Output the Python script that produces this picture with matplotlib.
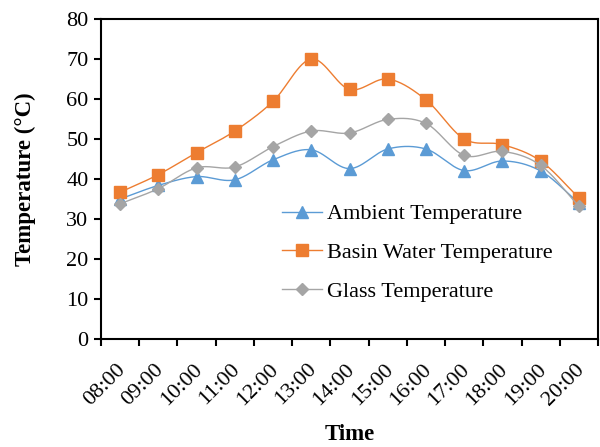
import numpy as np
import matplotlib
matplotlib.use("Agg")
import matplotlib.pyplot as plt
import matplotlib.transforms as mtransforms
from matplotlib.lines import Line2D

times = ["08:00", "09:00", "10:00", "11:00", "12:00", "13:00", "14:00",
         "15:00", "16:00", "17:00", "18:00", "19:00", "20:00"]
ambient = [35.0, 38.4, 40.6, 39.8, 44.8, 47.3, 42.6, 47.5, 47.5, 42.1, 44.5, 42.0, 34.0]
basin = [36.7, 41.1, 46.6, 52.0, 59.4, 70.0, 62.4, 65.0, 59.8, 50.0, 48.6, 44.5, 35.3]
glass = [33.8, 37.6, 42.8, 43.0, 48.1, 52.0, 51.5, 54.9, 53.9, 45.9, 46.9, 43.4, 33.2]

plt.rcParams['font.family'] = ['Liberation Serif', 'DejaVu Serif']

def smooth(x, y, n=30):
    # Catmull-Rom style smoothing (like Excel's smoothed line)
    x = np.asarray(x, float); y = np.asarray(y, float)
    px = np.concatenate([[2*x[0]-x[1]], x, [2*x[-1]-x[-2]]])
    py = np.concatenate([[2*y[0]-y[1]], y, [2*y[-1]-y[-2]]])
    xs, ys = [], []
    t = np.linspace(0, 1, n)
    for i in range(1, len(px)-2):
        for P, out in ((px, xs), (py, ys)):
            p0, p1, p2, p3 = P[i-1], P[i], P[i+1], P[i+2]
            out.extend(0.5*((2*p1) + (-p0+p2)*t + (2*p0-5*p1+4*p2-p3)*t**2
                            + (-p0+3*p1-3*p2+p3)*t**3))
    return np.array(xs), np.array(ys)

fig = plt.figure(figsize=(6.0, 4.47), dpi=100)
ax = fig.add_axes([101/600, 1-339/447, 497/600, 320/447])

x = np.arange(len(times))
series = [
    ("Ambient Temperature", ambient, "#5B9BD5", "^", 8),
    ("Basin Water Temperature", basin, "#ED7D31", "s", 8),
    ("Glass Temperature", glass, "#A5A5A5", "D", 6),
]
handles = []
for label, vals, col, mk, ms in series:
    sx, sy = smooth(x, vals)
    ax.plot(sx, sy, color=col, lw=1.0)
    ax.plot(x, vals, linestyle="none", marker=mk, markersize=ms, color=col)
    handles.append(Line2D([], [], color=col, lw=1.0, marker=mk, markersize=ms, label=label))

ax.set_xlim(-0.5, len(times)-0.5)
ax.set_ylim(0, 80)
ax.set_yticks(np.arange(0, 81, 10))
ax.set_xticks(np.arange(-0.5, len(times), 1.0), minor=False)
ax.set_xticklabels([])
ax.set_xticks(x, minor=True)
ax.set_xticklabels(times, minor=True, rotation=45, ha="right", rotation_mode="anchor", fontsize=16)
ax.tick_params(axis="x", which="minor", length=0, pad=15)
ax.tick_params(axis="x", which="major", direction="out", length=5, width=1.5)
ax.tick_params(axis="y", direction="out", length=5, width=1.5, labelsize=16, pad=4)
offset = mtransforms.ScaledTranslation(-4/100, 0, fig.dpi_scale_trans)
for lbl in ax.get_xticklabels(minor=True):
    lbl.set_transform(lbl.get_transform() + offset)
for s in ax.spines.values():
    s.set_linewidth(1.5)

ax.set_ylabel("Temperature (°C)", fontsize=16.5, fontweight="bold", labelpad=22)
ax.set_xlabel("Time", fontsize=16.5, fontweight="bold", labelpad=11)

ax.legend(handles=handles, loc="center left", bbox_to_anchor=(0.364, 0.269), frameon=False,
          fontsize=16, handlelength=1.8, handletextpad=0.22, labelspacing=0.82,
          borderpad=0, borderaxespad=0)

fig.savefig("out.png", dpi=100)
